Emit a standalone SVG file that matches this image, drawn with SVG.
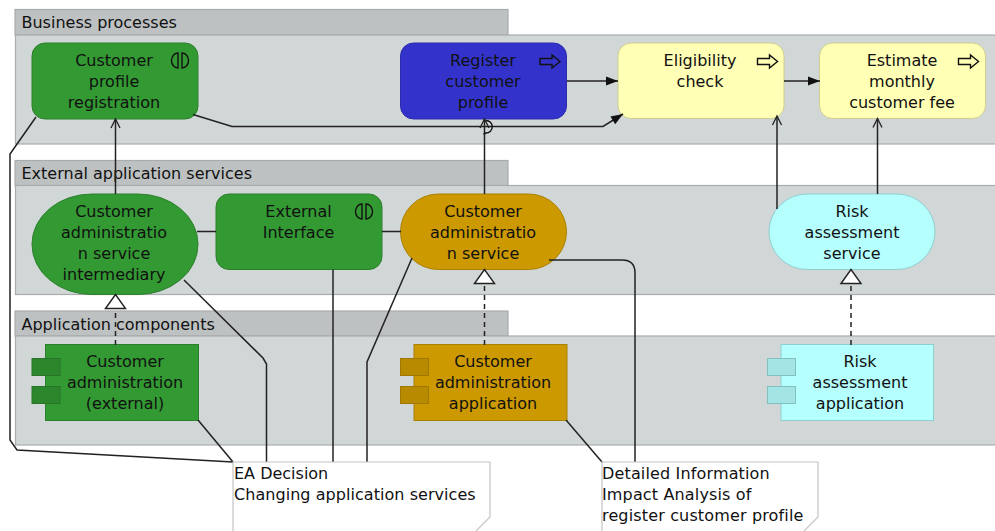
<svg xmlns="http://www.w3.org/2000/svg" width="995" height="531" viewBox="0 0 995 531">
<style>
text{font-family:"DejaVu Sans","Liberation Sans",sans-serif;font-size:16px;fill:#111;text-anchor:middle}
.l{text-anchor:start}
.w{letter-spacing:.15px}
.tab{fill:#bec1c2;stroke:#a9acad;stroke-width:1.2}
.body{fill:#d1d6d7;stroke:#a9acad;stroke-width:1.2}
.c{fill:none;stroke:#222;stroke-width:1.5}
.d{stroke-dasharray:5 4}
.g{fill:#339933;stroke:#2c802c}
.b{fill:#3333cc;stroke:#2c2cab}
.y{fill:#ffffb5;stroke:#cfcf90}
.o{fill:#cc9900;stroke:#aa8000}
.t{fill:#b5ffff;stroke:#90cfcf}
.g2{fill:#2c862c;stroke:#287528}
.o2{fill:#b88a00;stroke:#a07800}
.t2{fill:#a3e5e5;stroke:#85c0c0}
.note{fill:#fff;stroke:#c4c4c4;stroke-width:1.2}
.ic{fill:none;stroke:#111;stroke-width:1.4}
</style>
<defs>
<marker id="open" markerUnits="userSpaceOnUse" markerWidth="14" markerHeight="14" refX="12" refY="7" orient="auto"><path d="M3 2.500L12 7L3 11.500" fill="none" stroke="#222" stroke-width="1.300"/></marker>
<marker id="fill" markerUnits="userSpaceOnUse" markerWidth="14" markerHeight="14" refX="13" refY="7" orient="auto"><path d="M1 2.500L13 7L1 11.500Z" fill="#111"/></marker>
<marker id="tri" markerUnits="userSpaceOnUse" markerWidth="24" markerHeight="24" refX="16" refY="12" orient="auto"><path d="M2 2L16 12L2 22Z" fill="#fff" stroke="#222" stroke-width="1.400"/></marker>
<symbol id="iface" overflow="visible"><path class="ic" d="M7 0A6.500 7.500 0 0 0 7 15ZM11 0A6.500 7.500 0 0 1 11 15Z"/></symbol>
<symbol id="proc" overflow="visible"><path class="ic" d="M0 3.500H12V0L20 6.500L12 13V9.500H0Z"/></symbol>
</defs>
<g id="group-business"><rect class="tab" x="15" y="9.500" width="493" height="25.500"/><rect class="body" x="15.500" y="35" width="985" height="109"/><text class="l" x="21.500" y="28">Business processes</text></g>
<g id="group-services"><rect class="tab" x="15" y="160.500" width="493" height="25"/><rect class="body" x="15.500" y="185.500" width="985" height="109"/><text class="l" x="21.500" y="179">External application services</text></g>
<g id="group-components"><rect class="tab" x="15" y="311" width="493" height="25"/><rect class="body" x="15.500" y="336" width="985" height="109"/><text class="l" x="21.500" y="330">Application components</text></g>

<g id="n1"><rect class="g" x="32" y="43" width="166" height="76" rx="13"/><use href="#iface" x="171" y="53"/><text x="114" y="66">Customer</text><text x="114" y="87">profile</text><text x="114" y="108">registration</text></g>
<g id="n2"><rect class="b" x="400.500" y="43" width="166" height="76" rx="13"/><use href="#proc" x="540" y="55"/><text x="483" y="66">Register</text><text x="483" y="87">customer</text><text x="483" y="108">profile</text></g>
<g id="n3"><rect class="y" x="618" y="43" width="166" height="75.500" rx="13"/><use href="#proc" x="757.500" y="55"/><text x="700" y="66">Eligibility</text><text x="700" y="87">check</text></g>
<g id="n4"><rect class="y" x="819.500" y="43" width="166" height="75.500" rx="13"/><use href="#proc" x="958.500" y="55"/><text x="902" y="66">Estimate</text><text x="902" y="87">monthly</text><text x="902" y="108">customer fee</text></g>
<g id="n5"><rect class="g" x="32" y="194" width="166" height="100.500" rx="60" ry="50"/><text x="114" y="217">Customer</text><text x="114" y="238">administratio</text><text x="114" y="259">n service</text><text x="114" y="280">intermediary</text></g>
<g id="n6"><rect class="g" x="216" y="194" width="166" height="75.500" rx="13"/><use href="#iface" x="355" y="204"/><text x="298.500" y="217">External</text><text x="298.500" y="238">Interface</text></g>
<g id="n7"><rect class="o" x="400.500" y="194" width="166" height="75.500" rx="38"/><text x="483" y="217">Customer</text><text x="483" y="238">administratio</text><text x="483" y="259">n service</text></g>
<g id="n8"><rect class="t" x="769" y="194" width="166" height="75.500" rx="38"/><text x="852" y="217">Risk</text><text x="852" y="238">assessment</text><text x="852" y="259">service</text></g>
<g id="n9"><rect class="g" x="45.500" y="344.500" width="153" height="76"/><rect class="g2" x="32" y="358.500" width="28" height="17"/><rect class="g2" x="32" y="386.500" width="28" height="17"/><text x="125" y="367">Customer</text><text x="125" y="388">administration</text><text x="125" y="409">(external)</text></g>
<g id="n10"><rect class="o" x="414" y="344.500" width="153" height="76"/><rect class="o2" x="400.500" y="358.500" width="28" height="17"/><rect class="o2" x="400.500" y="386.500" width="28" height="17"/><text x="493" y="367">Customer</text><text x="493" y="388">administration</text><text x="493" y="409">application</text></g>
<g id="n11"><rect class="t" x="781" y="344.500" width="152.500" height="76"/><rect class="t2" x="767.500" y="358.500" width="28" height="17"/><rect class="t2" x="767.500" y="386.500" width="28" height="17"/><text x="860" y="367">Risk</text><text x="860" y="388">assessment</text><text x="860" y="409">application</text></g>

<g id="connectors">
<path class="c" marker-end="url(#fill)" d="M567 81H618"/>
<path class="c" marker-end="url(#fill)" d="M784 81H820"/>
<path class="c" marker-end="url(#fill)" d="M193 114.500L232 126.500H603L623 114"/>
<path class="c" marker-end="url(#open)" d="M115.500 194V119"/>
<path class="c" marker-end="url(#open)" d="M484.500 194V119"/>
<path class="ic" d="M486 120.500A6 6 0 0 1 486 133L483.500 134"/>
<path class="c" marker-end="url(#open)" d="M777 209V116"/>
<path class="c" marker-end="url(#open)" d="M877.500 194V118.500"/>
<path class="c" d="M197 231.500H216M382 231.500H401"/>
<path class="c d" marker-end="url(#tri)" d="M115.500 345V294.500"/>
<path class="c d" marker-end="url(#tri)" d="M484.500 345V269.500"/>
<path class="c d" marker-end="url(#tri)" d="M851 345V269.500"/>
<path class="c" d="M36 117L10 154V440L17 450L233 462"/>
<path class="c" d="M184 280L263 358L266.500 364V462"/>
<path class="c" d="M333 269.500V462"/>
<path class="c" d="M412 258L367 362V462"/>
<path class="c" d="M198 420L233 462"/>
<path class="c" d="M549 260H622Q635 260 635 273V462"/>
<path class="c" d="M566 420L602 462"/>
</g>

<g id="note1"><path class="note" d="M233 531V462H490V517L476 531"/><text class="l" x="234" y="479">EA Decision</text><text class="l w" x="234" y="500" style="letter-spacing:.05px">Changing application services</text></g>
<g id="note2"><path class="note" d="M602 531V462H818V517L804 531"/><text class="l w" x="602" y="479">Detailed Information</text><text class="l w" x="602" y="500">Impact Analysis of</text><text class="l w" x="602" y="521">register customer profile</text></g>
</svg>
